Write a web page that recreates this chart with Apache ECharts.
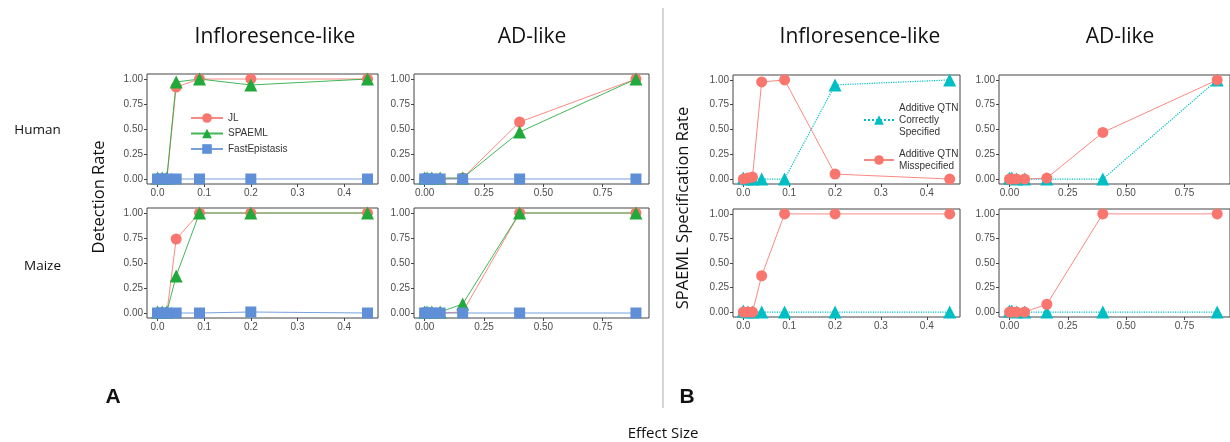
<!DOCTYPE html>
<html><head><meta charset="utf-8">
<script src="https://cdn.jsdelivr.net/npm/echarts@6/dist/echarts.min.js"></script>
<style>html,body{margin:0;padding:0;background:#fff}#c{width:1230px;height:442px}</style>
</head><body><div id="c"></div>
<script>
// ---- data ----
const xInflor = [0, 0.01, 0.02, 0.04, 0.09, 0.2, 0.45];
const xAD = [0, 0.01, 0.03, 0.065, 0.16, 0.4, 0.89];
const xTicksInflor = [0, 0.1, 0.2, 0.3, 0.4];
const xTicksAD = [0, 0.25, 0.5, 0.75];
const yTicks = [0, 0.25, 0.5, 0.75, 1];

// Panel A: detection rate
const jlHumanInflor     = [0, 0, 0, 0.92, 1.0, 1.0, 1.0];
const spaemlHumanInflor = [0.01, 0.01, 0.01, 0.97, 1.0, 0.94, 1.0];
const fastHumanInflor   = [0, 0, 0, 0, 0, 0, 0];
const jlHumanAD         = [0, 0, 0, 0, 0.01, 0.57, 1.0];
const spaemlHumanAD     = [0.01, 0.01, 0.01, 0.01, 0.01, 0.47, 1.0];
const fastHumanAD       = [0, 0, 0, 0, 0, 0, 0];
const jlMaizeInflor     = [0, 0, 0, 0.74, 1.0, 1.0, 1.0];
const spaemlMaizeInflor = [0.01, 0.01, 0.01, 0.37, 1.0, 1.0, 1.0];
const fastMaizeInflor   = [0, 0, 0, 0, 0, 0.01, 0];
const jlMaizeAD         = [0, 0, 0, 0, 0.01, 1.0, 1.0];
const spaemlMaizeAD     = [0.01, 0.01, 0.01, 0.01, 0.09, 1.0, 1.0];
const fastMaizeAD       = [0, 0, 0, 0, 0, 0, 0];

// Panel B: SPAEML specification rate
const correctHumanInflor = [0.01, 0, 0, 0, 0, 0.95, 1.0];
const misHumanInflor     = [0, 0.01, 0.02, 0.98, 1.0, 0.05, 0.0];
const correctHumanAD     = [0.01, 0.01, 0, 0, 0, 0, 1.0];
const misHumanAD         = [0, 0, 0, 0, 0.01, 0.47, 1.0];
const correctMaizeInflor = [0.01, 0, 0, 0, 0, 0, 0];
const misMaizeInflor     = [0, 0, 0, 0.37, 1.0, 1.0, 1.0];
const correctMaizeAD     = [0.01, 0.01, 0, 0, 0, 0, 0];
const misMaizeAD         = [0, 0, 0, 0, 0.08, 1.0, 1.0];

// ---- style ----
const RED = '#F8766D', GREEN = '#22A93C', BLUE = '#5F8FD6', TEAL = '#00BFC4';
const tickFont = {fontFamily: 'Liberation Sans', fontSize: 10, color: '#4d4d4d'};

const grids = [
  {left: 147, top: 74, width: 231, height: 110},   // A human inflor
  {left: 414, top: 74, width: 235, height: 110},   // A human AD
  {left: 147, top: 208, width: 231, height: 110},  // A maize inflor
  {left: 414, top: 208, width: 235, height: 110},  // A maize AD
  {left: 733, top: 75, width: 227, height: 109},   // B human inflor
  {left: 999, top: 75, width: 238, height: 109},   // B human AD
  {left: 733, top: 209, width: 227, height: 108},  // B maize inflor
  {left: 999, top: 209, width: 238, height: 108}   // B maize AD
].map(g => Object.assign({show: true, borderColor: '#444', borderWidth: 1, backgroundColor: '#fff'}, g));

const isAD = [false, true, false, true, false, true, false, true];
const xAxes = isAD.map((ad, i) => ({
  type: 'value', gridIndex: i, position: 'bottom',
  min: ad ? -0.045 : -0.0225, max: ad ? 0.945 : 0.4725,
  axisLine: {show: false, onZero: false},
  splitLine: {show: false},
  axisTick: {show: true, length: 3, lineStyle: {color: '#444'}, customValues: ad ? xTicksAD : xTicksInflor},
  axisLabel: Object.assign({margin: 4, customValues: ad ? xTicksAD : xTicksInflor,
    formatter: v => ad ? v.toFixed(2) : v.toFixed(1)}, tickFont)
}));
const yAxes = isAD.map((ad, i) => ({
  type: 'value', gridIndex: i, position: 'left', min: -0.05, max: 1.05,
  axisLine: {show: false, onZero: false},
  splitLine: {show: false},
  axisTick: {show: true, length: 3, lineStyle: {color: '#444'}, customValues: yTicks},
  axisLabel: Object.assign({margin: 4, customValues: yTicks, formatter: v => v.toFixed(2)}, tickFont)
}));

function pts(xs, ys) { return xs.map((x, i) => [x, ys[i]]); }
function lineSeries(name, idx, xs, ys, color, symbol, size, dotted) {
  return {
    type: 'line', name: name, xAxisIndex: idx, yAxisIndex: idx,
    data: pts(xs, ys), symbol: symbol, symbolSize: size, showSymbol: true,
    itemStyle: {color: color, opacity: 1},
    lineStyle: {color: color, width: dotted ? 1.2 : 1, type: dotted ? 'dotted' : 'solid', opacity: dotted ? 1 : 0.85},
    animation: false, silent: true
  };
}

const aSets = [
  [jlHumanInflor, spaemlHumanInflor, fastHumanInflor, xInflor],
  [jlHumanAD, spaemlHumanAD, fastHumanAD, xAD],
  [jlMaizeInflor, spaemlMaizeInflor, fastMaizeInflor, xInflor],
  [jlMaizeAD, spaemlMaizeAD, fastMaizeAD, xAD]
];
const bSets = [
  [correctHumanInflor, misHumanInflor, xInflor],
  [correctHumanAD, misHumanAD, xAD],
  [correctMaizeInflor, misMaizeInflor, xInflor],
  [correctMaizeAD, misMaizeAD, xAD]
];
const CORRECT = 'Additive QTN\nCorrectly\nSpecified';
const MIS = 'Additive QTN\nMisspecified';

const series = [];
aSets.forEach((s, i) => {
  series.push(lineSeries('JL', i, s[3], s[0], RED, 'circle', 11));
  series.push(lineSeries('SPAEML', i, s[3], s[1], GREEN, 'triangle', 13));
  series.push(lineSeries('FastEpistasis', i, s[3], s[2], BLUE, 'rect', 11));
});
bSets.forEach((s, j) => {
  const i = j + 4;
  series.push(lineSeries(CORRECT, i, s[2], s[0], TEAL, 'triangle', 13, true));
  series.push(lineSeries(MIS, i, s[2], s[1], RED, 'circle', 11));
});

const txt = (x, y, text, size, opts) => ({
  type: 'text', x: x, y: y, silent: true,
  style: Object.assign({text: text, fill: '#111', fontSize: size, fontFamily: 'Open Sans',
    textAlign: 'center', textVerticalAlign: 'middle'}, opts || {})
});

const option = {
  backgroundColor: '#fff',
  animation: false,
  grid: grids, xAxis: xAxes, yAxis: yAxes, series: series,
  legend: [
    {data: ['JL', 'SPAEML', 'FastEpistasis'], orient: 'vertical', left: 185, top: 108,
     itemWidth: 32, itemHeight: 12, itemGap: 5.5, selectedMode: false,
     textStyle: {fontFamily: 'Liberation Sans', fontSize: 10, color: '#333'}},
    {data: [CORRECT, MIS], orient: 'vertical', left: 858, top: 97,
     itemWidth: 30, itemHeight: 12, itemGap: 10, selectedMode: false,
     textStyle: {fontFamily: 'Liberation Sans', fontSize: 10, color: '#333', lineHeight: 12}}
  ],
  graphic: [
    txt(275, 37, 'Infloresence-like', 21),
    txt(532, 37, 'AD-like', 21),
    txt(860, 37, 'Infloresence-like', 21),
    txt(1120, 37, 'AD-like', 21),
    txt(37.5, 130, 'Human', 13.5),
    txt(42.5, 266, 'Maize', 13.5),
    {type: 'text', x: 99, y: 197, rotation: Math.PI / 2, silent: true,
     style: {text: 'Detection Rate', fill: '#111', fontSize: 16.5, fontFamily: 'Open Sans', textAlign: 'center', textVerticalAlign: 'middle'}},
    {type: 'text', x: 683, y: 208, rotation: Math.PI / 2, silent: true,
     style: {text: 'SPAEML Specification Rate', fill: '#111', fontSize: 16.5, fontFamily: 'Open Sans', textAlign: 'center', textVerticalAlign: 'middle'}},
    txt(113, 397, 'A', 21, {fontWeight: 'bold', fontFamily: 'Liberation Sans'}),
    txt(687, 397, 'B', 21, {fontWeight: 'bold', fontFamily: 'Liberation Sans'}),
    txt(663, 434, 'Effect Size', 15),
    {type: 'line', silent: true, shape: {x1: 663, y1: 8, x2: 663, y2: 408},
     style: {stroke: '#c8c8c8', lineWidth: 1.5}}
  ]
};
const chart = echarts.init(document.getElementById('c'), null, {renderer: 'canvas'});
chart.setOption(option);
</script>
</body></html>
